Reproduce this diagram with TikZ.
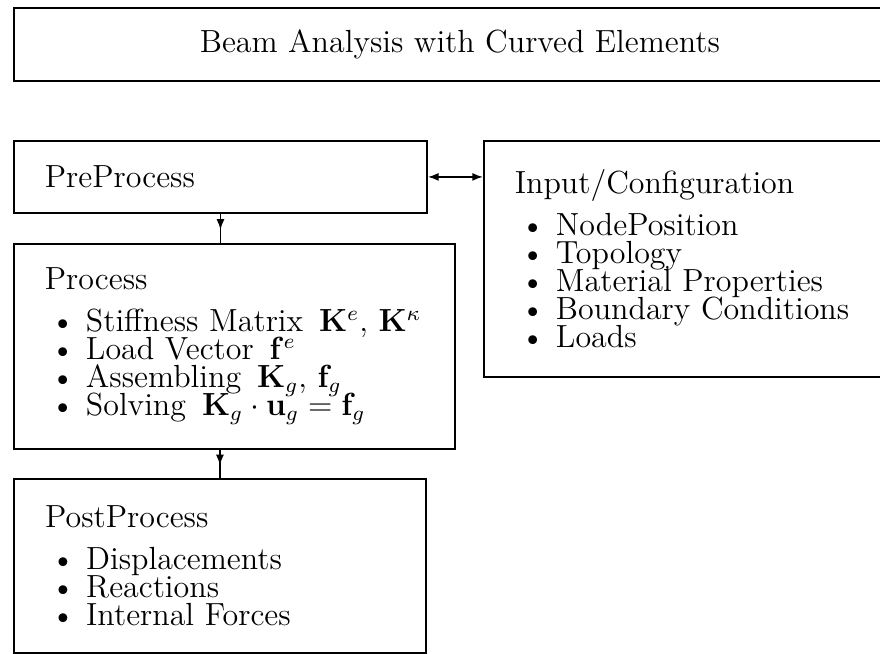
\documentclass[tikz,border=0pt]{standalone}
\usepackage{amsmath}
\usepackage{tikz}
\usetikzlibrary{arrows.meta,decorations.markings}
\newcommand{\punto}[1]{\mbox{\hspace*{4.6pt}\makebox[10.8pt][l]{\raisebox{0.9pt}{\footnotesize$\bullet$}}#1}}
\newcommand{\fuentebloque}{\large\baselineskip=10.5pt\lineskiplimit=-10pt}
\tikzstyle{cabecera} = [draw, line width=0.7pt, rectangle, anchor=north west, align=center, font=\large]
\tikzstyle{bloque} = [draw, line width=0.7pt, rectangle, anchor=north west, inner xsep=11.6pt, inner ysep=0pt, align=left, font=\fuentebloque]
\tikzstyle{flecha} = [line width=0.6pt, postaction={decorate}, decoration={markings, mark=at position 0.55 with {\arrow{Latex[length=4pt,width=3pt]}}}]

\begin{document}
\begin{tikzpicture}[x=0.375pt,y=-0.375pt]
	\useasboundingbox (0,0) rectangle (880,654);
	\clip (0,0) rectangle (880,654);
	% title
	\node[cabecera, minimum width=334.5pt, minimum height=27.4pt] (titulo) at (13,7) {Beam Analysis with Curved Elements};
	% blocks
	\node[bloque, minimum width=154.9pt, minimum height=27pt, text width=131.7pt] (pre) at (13,140) {PreProcess};
	\node[bloque, minimum width=163.9pt, minimum height=88.5pt, text width=140.7pt] (config) at (483,140) {%
		Input/Configuration\\[5.25pt]
		\punto{NodePosition}\\
		\punto{Topology}\\
		\punto{Material Properties}\\
		\punto{Boundary Conditions}\\
		\punto{Loads}};
	\node[bloque, minimum width=165.4pt, minimum height=76.9pt, text width=142.2pt] (proc) at (13,243) {%
		Process\\[5.25pt]
		\punto{Stiffness Matrix\enskip $\mathbf{K}^e$, $\mathbf{K}^\kappa$}\\
		\punto{Load Vector\enskip $\mathbf{f}^e$}\\
		\punto{Assembling\enskip $\mathbf{K}_g$, $\mathbf{f}_g$}\\
		\punto{Solving\enskip $\mathbf{K}_g \cdot \mathbf{u}_g = \mathbf{f}_g$}};
	\node[bloque, minimum width=154.5pt, minimum height=65.25pt, text width=131.1pt] (post) at (13,478) {%
		PostProcess\\[5.25pt]
		\punto{Displacements}\\
		\punto{Reactions}\\
		\punto{Internal Forces}};
	% connectors
	\draw[flecha] (pre.south) -- (pre.south |- proc.north);
	\draw[flecha] (post.north |- proc.south) -- (post.north);
	\draw[<->, >={Latex[length=4pt,width=3pt]}, line width=0.6pt] (pre.east) -- (pre.east -| config.west);
\end{tikzpicture}
\end{document}
